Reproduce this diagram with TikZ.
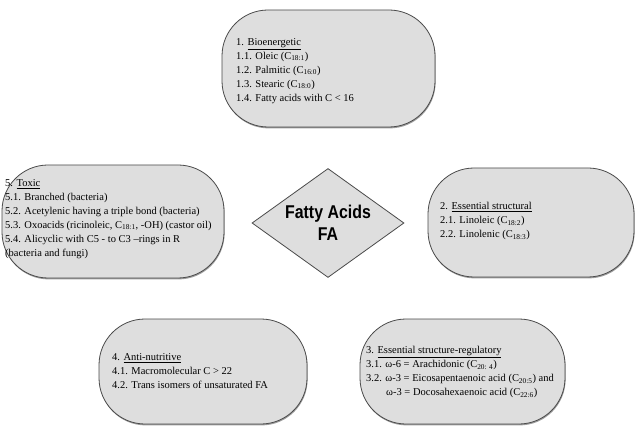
\documentclass[tikz,border=0pt]{standalone}
\usepackage{fontspec}
\setmainfont{Liberation Serif}
\newfontfamily\headsans[FakeStretch=0.86]{Liberation Sans}
\usetikzlibrary{shapes.geometric,shadows}
\definecolor{boxfill}{HTML}{DEDEDE}
\definecolor{boxline}{HTML}{4A4A4A}
\tikzset{
  fabox/.style={draw=boxline, line width=0.8pt, fill=boxfill, rounded corners=46pt,
    inner sep=0pt, drop shadow={shadow xshift=0.6pt, shadow yshift=-1.4pt, opacity=0.55, fill=black!70}},
  fatext/.style={align=left, anchor=west, inner sep=0pt, font=\fontsize{10.5}{14}\selectfont},
  fadiamond/.style={diamond, draw=boxline, line width=0.8pt, fill=boxfill, inner sep=0pt, aspect=1.4}
}
\begin{document}
\begin{tikzpicture}[x=1pt,y=-1pt]
\useasboundingbox (0,0) rectangle (636,427);
% boxes
\node[fabox, minimum width=213pt, minimum height=117pt] (b1) at (328.5,68.5) {};
\node[fabox, minimum width=222pt, minimum height=113pt] (b5) at (113,221.5) {};
\node[fabox, minimum width=206pt, minimum height=109pt] (b2) at (531,222.5) {};
\node[fabox, minimum width=208pt, minimum height=105pt] (b4) at (203,371.5) {};
\node[fabox, minimum width=205pt, minimum height=105pt] (b3) at (462.5,371.5) {};
\node[fadiamond, minimum width=152pt, minimum height=109pt] (fa) at (328,223) {};
% texts
\node[fatext] (t1) at (236,71) {1. \underline{Bioenergetic}\\
1.1. Oleic (C\textsubscript{18:1})\\
1.2. Palmitic (C\textsubscript{16:0})\\
1.3. Stearic (C\textsubscript{18:0})\\
1.4. Fatty acids with C {\textless} 16};
\node[fatext] (t5) at (5,219) {5. \underline{Toxic}\\
5.1. Branched (bacteria)\\
5.2. Acetylenic having a triple bond (bacteria)\\
5.3. Oxoacids (ricinoleic, C\textsubscript{18:1}, -OH) (castor oil)\\
5.4. Alicyclic with C5 - to C3 --rings in R\\
(bacteria and fungi)};
\node[fatext] (t2) at (440,221) {2. \underline{Essential structural}\\
2.1. Linoleic (C\textsubscript{18:2})\\
2.2. Linolenic (C\textsubscript{18:3})};
\node[fatext] (t4) at (112,371) {4. \underline{Anti-nutritive}\\
4.1. Macromolecular C {\textgreater} 22\\
4.2. Trans isomers of unsaturated FA};
\node[fatext] (t3) at (366,372) {3. \underline{Essential structure-regulatory}\\
3.1. ω-6 = Arachidonic (C\textsubscript{20: 4})\\
3.2. ω-3 = Eicosapentaenoic acid (C\textsubscript{20:5}) and\\
\hspace*{20pt}ω-3 = Docosahexaenoic acid (C\textsubscript{22:6})};
\node[align=center, inner sep=0pt, font=\headsans\bfseries\fontsize{18.5}{22}\selectfont] (tfa) at (fa.center) {Fatty Acids\\FA};
\end{tikzpicture}
\end{document}
